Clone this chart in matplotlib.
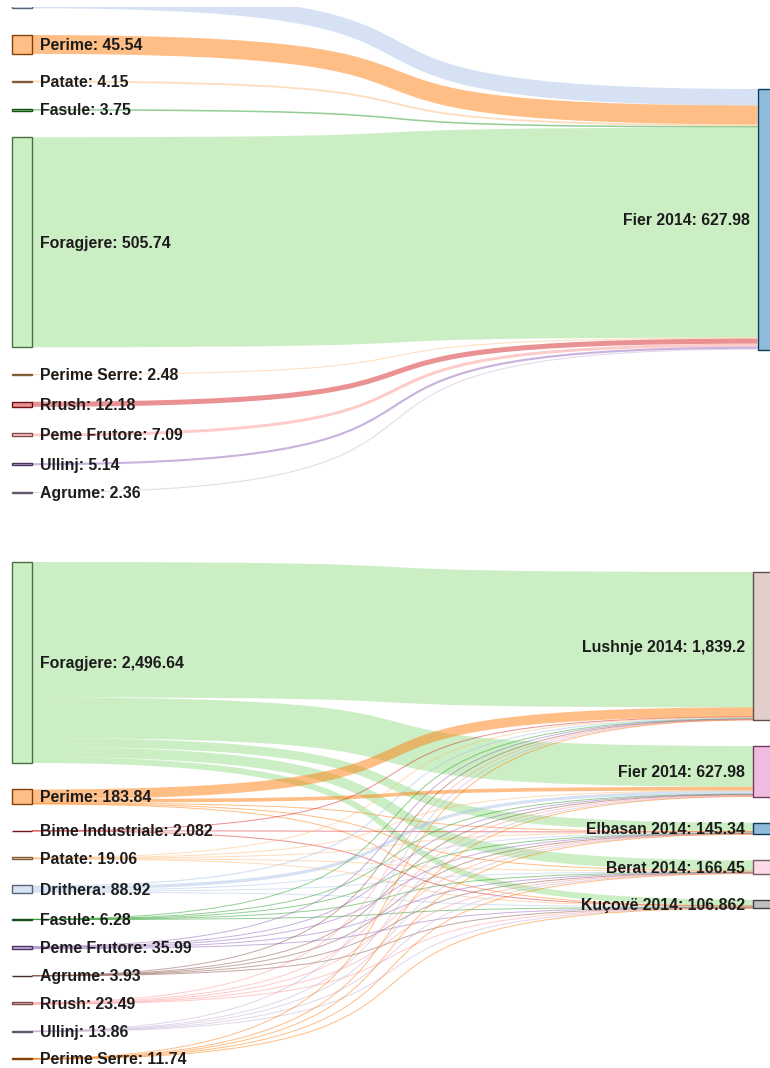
import matplotlib
matplotlib.use("Agg")
import matplotlib.pyplot as plt
from matplotlib.path import Path
from matplotlib.patches import PathPatch, Rectangle
import matplotlib.colors as mcolors

# ---------------- data ----------------
# Top sankey: crops -> Fier 2014
top_sources = ["Drithera", "Perime", "Patate", "Fasule", "Foragjere",
               "Perime Serre", "Rrush", "Peme Frutore", "Ullinj", "Agrume"]
top_values = [39.55, 45.54, 4.15, 3.75, 505.74, 2.48, 12.18, 7.09, 5.14, 2.36]
top_target = "Fier 2014"
top_colors = ["#aec7e8", "#ff7f0e", "#ffbb78", "#2ca02c", "#98df8a",
              "#ffbb78", "#d62728", "#ff9896", "#9467bd", "#c5b0d5"]
top_target_color = "#1f77b4"

# Bottom sankey: crops -> districts
bottom_sources = ["Foragjere", "Perime", "Bime Industriale", "Patate", "Drithera",
                  "Fasule", "Peme Frutore", "Agrume", "Rrush", "Ullinj", "Perime Serre"]
bottom_targets = ["Lushnje 2014", "Fier 2014", "Elbasan 2014", "Berat 2014", "Kuçovë 2014"]
to_lushnje = [1681.2, 120, 0.7, 6, 15, 0.8, 8, 0.5, 3, 2, 2]
to_fier = [505.74, 45.54, 0, 4.15, 39.55, 3.75, 7.09, 2.36, 12.18, 5.14, 2.48]
to_elbasan = [109.74, 6, 0.7, 3, 12, 0.6, 6, 0.3, 2.5, 2, 2.5]
to_berat = [125.45, 7, 0, 3, 12, 0.6, 9, 0.4, 3.5, 3, 2.5]
to_kucove = [74.51, 5.3, 0.682, 2.91, 10.37, 0.53, 5.9, 0.37, 2.31, 1.72, 2.26]
bottom_colors = ["#98df8a", "#ff7f0e", "#d62728", "#ffbb78", "#aec7e8", "#2ca02c",
                 "#9467bd", "#8c564b", "#ff9896", "#c5b0d5", "#ff7f0e"]
bottom_target_colors = ["#c49c94", "#e377c2", "#1f77b4", "#f7b6d2", "#7f7f7f"]

# ---------------- style / layout ----------------
W, H = 770, 1068
DPI = 100
PX2PT = 72.0 / DPI
FONT = "Liberation Sans"
FS = 11.4
FS_PX = FS / PX2PT
TEXT_COLOR = "#1c1c1c"
LINK_ALPHA = 0.5
CURV = 0.75
NODE_W = 20


def fmt(v):
    v = round(v, 3)
    s = f"{v:,}"
    if s.endswith(".0"):
        s = s[:-2]
    return s


def blend(c, a=0.5):
    r, g, b = mcolors.to_rgb(c)
    return (1 - a + a * r, 1 - a + a * g, 1 - a + a * b)


def darker(c, f=0.5):
    r, g, b = mcolors.to_rgb(c)
    return (r * f, g * f, b * f)


def stack(values, y_start, pad, ky):
    out = []
    y = y_start
    for v in values:
        h = v * ky
        out.append([y, y + h])
        y += h + pad
    return out


def draw_node(ax, x, y0, y1, color):
    ax.add_patch(Rectangle((x, y0), NODE_W, y1 - y0, facecolor=blend(color, 0.5),
                           edgecolor=darker(color, 0.5), lw=1.0, zorder=3))


def draw_link(ax, x0, y0, x1, y1, w, color):
    dx = x1 - x0
    verts = [(x0, y0), (x0 + CURV * dx, y0), (x1 - CURV * dx, y1), (x1, y1)]
    codes = [Path.MOVETO, Path.CURVE4, Path.CURVE4, Path.CURVE4]
    ax.add_patch(PathPatch(Path(verts, codes), fill=False, edgecolor=color,
                           alpha=LINK_ALPHA, lw=max(1.0, w) * PX2PT,
                           capstyle="butt", zorder=2))


def label(ax, x, yc, text, ha):
    ax.text(x, yc + 0.35 * FS_PX, text, ha=ha, va="baseline", fontsize=FS,
            fontweight="bold", family=FONT, color=TEXT_COLOR, zorder=5, clip_on=True)


def sankey(ax, sources, s_colors, targets, t_colors, flows,
           ky, left_start, right_start, pad, right_pad, right_x):
    # flows[j][i]: from source i to target j
    n_s, n_t = len(sources), len(targets)
    s_tot = [sum(flows[j][i] for j in range(n_t)) for i in range(n_s)]
    t_tot = [sum(flows[j][i] for i in range(n_s)) for j in range(n_t)]
    s_pos = stack(s_tot, left_start, pad, ky)
    t_pos = stack(t_tot, right_start, right_pad, ky)
    lx0, lx1 = 12, 12 + NODE_W
    s_off = [p[0] for p in s_pos]
    t_off = [p[0] for p in t_pos]
    links = []
    # source side: ordered by target; target side: ordered by source
    for i in range(n_s):
        for j in range(n_t):
            v = flows[j][i]
            if v <= 0:
                continue
            links.append([i, j, v, s_off[i], 0])
            s_off[i] += v * ky
    for j in range(n_t):
        for lk in links:
            if lk[1] == j:
                lk[4] = t_off[j]
                t_off[j] += lk[2] * ky
    for i, j, v, ys, yt in links:
        w = v * ky
        draw_link(ax, lx1, ys + w / 2, right_x, yt + w / 2, w, s_colors[i])
    for i in range(n_s):
        y0, y1 = s_pos[i]
        draw_node(ax, lx0, y0, y1, s_colors[i])
        label(ax, lx1 + 8, (y0 + y1) / 2, f"{sources[i]}: {fmt(s_tot[i])}", "left")
    for j in range(n_t):
        y0, y1 = t_pos[j]
        draw_node(ax, right_x, y0, y1, t_colors[j])
        label(ax, right_x - 8, (y0 + y1) / 2, f"{targets[j]}: {fmt(t_tot[j])}", "right")


def make_axes(fig, ytop, ybot):
    ax = fig.add_axes([0, 1 - ybot / H, 1, (ybot - ytop) / H])
    ax.set_xlim(0, W)
    ax.set_ylim(ybot, ytop)
    ax.axis("off")
    return ax


fig = plt.figure(figsize=(W / DPI, H / DPI), dpi=DPI)
fig.patch.set_facecolor("white")

# the top diagram is scrolled: its first node sits partly above the visible area
ax_top = make_axes(fig, 6.5, 530)
sankey(ax_top, top_sources, top_colors, [top_target], [top_target_color],
       [top_values], ky=0.4152, left_start=-8.1, right_start=89, pad=26.7,
       right_pad=26.7, right_x=757.5)

ax_bot = make_axes(fig, 530, H)
sankey(ax_bot, bottom_sources, bottom_colors, bottom_targets, bottom_target_colors,
       [to_lushnje, to_fier, to_elbasan, to_berat, to_kucove],
       ky=0.0805, left_start=562, right_start=572, pad=26.5, right_pad=26.0,
       right_x=753)

fig.savefig("out.png", dpi=DPI, facecolor="white")
